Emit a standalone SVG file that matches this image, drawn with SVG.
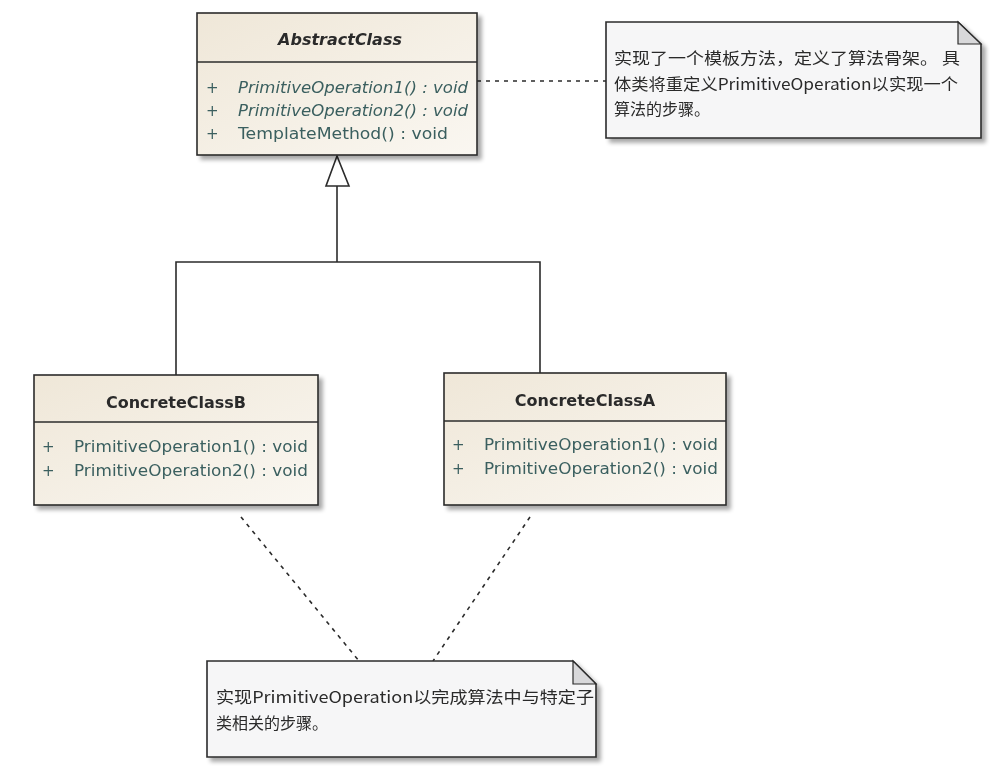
<svg xmlns="http://www.w3.org/2000/svg" width="990" height="771" viewBox="0 0 990 771">
<defs>
  <linearGradient id="cls" x1="0" y1="0" x2="1" y2="1">
    <stop offset="0" stop-color="#EFE7D8"/>
    <stop offset="1" stop-color="#FAF7F1"/>
  </linearGradient>
  <filter id="sh" x="-5%" y="-5%" width="115%" height="120%">
    <feGaussianBlur in="SourceAlpha" stdDeviation="2"/>
    <feOffset dx="4" dy="4" result="b"/>
    <feComponentTransfer><feFuncA type="linear" slope="0.35"/></feComponentTransfer>
    <feMerge><feMergeNode/><feMergeNode in="SourceGraphic"/></feMerge>
  </filter>
</defs>
<style>
  .box { fill: url(#cls); stroke: #2b2b2b; stroke-width: 1.6; }
  .div { stroke: #2b2b2b; stroke-width: 1.4; }
  .title { font-family: "DejaVu Sans", "Liberation Sans", sans-serif; font-size: 16px; font-weight: bold; fill: #2a2a2a; text-anchor: middle; }
  .op { font-family: "DejaVu Sans", "Liberation Sans", sans-serif; font-size: 15px; fill: #3a5f5f; }
  .it { font-style: italic; }
  .note { fill: #F6F6F7; stroke: #2b2b2b; stroke-width: 1.6; }
  .fold { fill: #D8D8DA; stroke: #2b2b2b; stroke-width: 1.2; }
  .ntext { font-family: "Noto Sans CJK SC", "DejaVu Sans", sans-serif; font-size: 16px; fill: #2a2a2a; }
  .solid { stroke: #2b2b2b; stroke-width: 1.6; fill: none; }
  .dash { stroke: #2b2b2b; stroke-width: 1.6; fill: none; stroke-dasharray: 4 5; }
</style>
<rect width="990" height="771" fill="#ffffff"/>

<g id="connectors">
  <line class="dash" x1="477" y1="81" x2="606" y2="81"/>
  <line class="dash" x1="241" y1="517" x2="359" y2="661"/>
  <line class="dash" x1="530" y1="517" x2="433" y2="661"/>
  <polyline class="solid" points="176,375 176,262 540,262 540,373"/>
  <line class="solid" x1="337" y1="262" x2="337" y2="186"/>
  <polygon points="337,156 326,186 349,186" fill="#ffffff" stroke="#2b2b2b" stroke-width="1.6"/>
</g>

<g id="AbstractClass" filter="url(#sh)">
  <rect class="box" x="197" y="13" width="280" height="142"/>
  <line class="div" x1="197" y1="62" x2="477" y2="62"/>
  <text class="title it" x="340" y="45">AbstractClass</text>
  <text class="op" x="206" y="93">+</text>
  <text class="op it" x="238" y="93" textLength="230" lengthAdjust="spacingAndGlyphs">PrimitiveOperation1() : void</text>
  <text class="op" x="206" y="116">+</text>
  <text class="op it" x="238" y="116" textLength="230" lengthAdjust="spacingAndGlyphs">PrimitiveOperation2() : void</text>
  <text class="op" x="206" y="139">+</text>
  <text class="op" x="238" y="139" textLength="210" lengthAdjust="spacingAndGlyphs">TemplateMethod() : void</text>
</g>

<g id="ConcreteClassB" filter="url(#sh)">
  <rect class="box" x="34" y="375" width="284" height="130"/>
  <line class="div" x1="34" y1="422" x2="318" y2="422"/>
  <text class="title" x="176" y="408">ConcreteClassB</text>
  <text class="op" x="42" y="452">+</text>
  <text class="op" x="74" y="452" textLength="234" lengthAdjust="spacingAndGlyphs">PrimitiveOperation1() : void</text>
  <text class="op" x="42" y="476">+</text>
  <text class="op" x="74" y="476" textLength="234" lengthAdjust="spacingAndGlyphs">PrimitiveOperation2() : void</text>
</g>

<g id="ConcreteClassA" filter="url(#sh)">
  <rect class="box" x="444" y="373" width="282" height="132"/>
  <line class="div" x1="444" y1="421" x2="726" y2="421"/>
  <text class="title" x="585" y="406">ConcreteClassA</text>
  <text class="op" x="452" y="450">+</text>
  <text class="op" x="484" y="450" textLength="234" lengthAdjust="spacingAndGlyphs">PrimitiveOperation1() : void</text>
  <text class="op" x="452" y="474">+</text>
  <text class="op" x="484" y="474" textLength="234" lengthAdjust="spacingAndGlyphs">PrimitiveOperation2() : void</text>
</g>

<g id="note1" filter="url(#sh)">
  <path class="note" d="M606,22 H958 L981,44 V138 H606 Z"/>
  <path class="fold" d="M958,22 V44 H981 Z"/>
  <text class="ntext" x="614" y="64" textLength="346" lengthAdjust="spacingAndGlyphs">实现了一个模板方法，定义了算法骨架。 具</text>
  <text class="ntext" x="614" y="90" textLength="344" lengthAdjust="spacingAndGlyphs">体类将重定义PrimitiveOperation以实现一个</text>
  <text class="ntext" x="614" y="115">算法的步骤。</text>
</g>

<g id="note2" filter="url(#sh)">
  <path class="note" d="M207,661 H573 L596,684 V757 H207 Z"/>
  <path class="fold" d="M573,661 V684 H596 Z"/>
  <text class="ntext" x="216" y="703" textLength="378" lengthAdjust="spacingAndGlyphs">实现PrimitiveOperation以完成算法中与特定子</text>
  <text class="ntext" x="216" y="729">类相关的步骤。</text>
</g>
</svg>
